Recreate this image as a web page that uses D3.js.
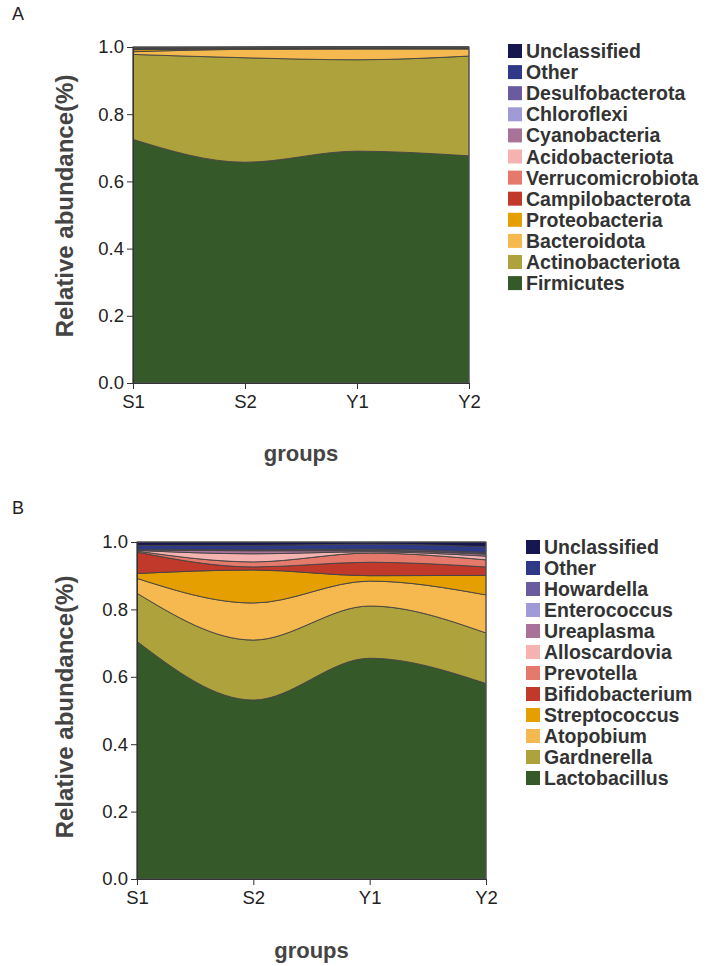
<!DOCTYPE html>
<html><head><meta charset="utf-8">
<script src="https://cdn.jsdelivr.net/npm/d3@7"></script>
<style>body{margin:0;background:#fff;} svg{display:block;font-family:"Liberation Sans",Arial,sans-serif;}</style>
</head><body>
<svg id="chart" width="708" height="966"></svg>
<script>
const groups = ["S1", "S2", "Y1", "Y2"];
const yTicks = [0, 0.2, 0.4, 0.6, 0.8, 1.0];
const colors = ["#36592a", "#aea23c", "#f5b94f", "#e69f00", "#c0392b", "#e57a6c", "#f4b3b0", "#a97298", "#a09bd6", "#6a5a9e", "#2e3a87", "#17174f"];

// Panel A (phylum), bottom to top
const phylaA = ["Firmicutes", "Actinobacteriota", "Bacteroidota", "Proteobacteria", "Campilobacterota", "Verrucomicrobiota", "Acidobacteriota", "Cyanobacteria", "Chloroflexi", "Desulfobacterota", "Other", "Unclassified"];
const firmicutes = [0.725, 0.657, 0.690, 0.676];
const actinobacteriota = [0.253, 0.311, 0.272, 0.297];
const bacteroidota = [0.008, 0.025, 0.032, 0.021];
const proteobacteria = [0.006, 0.002, 0.002, 0.002];
const campilobacterota = [0.001, 0.001, 0.001, 0.001];
const verrucomicrobiota = [0.001, 0.001, 0.001, 0.0005];
const acidobacteriota = [0.0005, 0.0005, 0.0005, 0.0005];
const cyanobacteria = [0.0005, 0.0005, 0.0005, 0.0005];
const chloroflexi = [0.0005, 0.0005, 0.0003, 0.0003];
const desulfobacterota = [0.0005, 0.0003, 0.0002, 0.0002];
const otherA = [0.002, 0.0007, 0.0005, 0.0005];
const unclassifiedA = [0.002, 0.0005, 0.0005, 0.0005];
const seriesA = [firmicutes, actinobacteriota, bacteroidota, proteobacteria, campilobacterota, verrucomicrobiota, acidobacteriota, cyanobacteria, chloroflexi, desulfobacterota, otherA, unclassifiedA];

// Panel B (genus), bottom to top
const generaB = ["Lactobacillus", "Gardnerella", "Atopobium", "Streptococcus", "Bifidobacterium", "Prevotella", "Alloscardovia", "Ureaplasma", "Enterococcus", "Howardella", "Other", "Unclassified"];
const lactobacillus = [0.705, 0.531, 0.655, 0.580];
const gardnerella = [0.143, 0.178, 0.155, 0.150];
const atopobium = [0.044, 0.110, 0.074, 0.113];
const streptococcus = [0.0145, 0.098, 0.016, 0.058];
const bifidobacterium = [0.0635, 0.009, 0.040, 0.025];
const prevotella = [0.003, 0.015, 0.027, 0.021];
const alloscardovia = [0.002, 0.024, 0.004, 0.011];
const ureaplasma = [0.002, 0.009, 0.003, 0.006];
const enterococcus = [0.0005, 0.001, 0.001, 0.002];
const howardella = [0.0005, 0.002, 0.004, 0.003];
const otherB = [0.012, 0.013, 0.015, 0.017];
const unclassifiedB = [0.010, 0.010, 0.006, 0.014];
const seriesB = [lactobacillus, gardnerella, atopobium, streptococcus, bifidobacterium, prevotella, alloscardovia, ureaplasma, enterococcus, howardella, otherB, unclassifiedB];

const svg = d3.select("#chart");

function panel(cfg) {
  const x = d3.scalePoint().domain(groups).range([cfg.x0, cfg.x1]);
  const y = d3.scaleLinear().domain([0, 1]).range([cfg.yb, cfg.yt]);
  const rows = groups.map((g, i) => {
    const r = {group: g};
    cfg.names.forEach((n, k) => r[n] = cfg.series[k][i]);
    return r;
  });
  const stacked = d3.stack().keys(cfg.names)(rows);
  const area = d3.area()
    .x(d => x(d.data.group))
    .y0(d => y(d[0])).y1(d => y(d[1]))
    .curve(d3.curveMonotoneX);
  const g = svg.append("g");
  g.append("rect").attr("x", cfg.x0).attr("y", cfg.yt).attr("width", cfg.x1 - cfg.x0).attr("height", cfg.yb - cfg.yt).attr("fill", colors[colors.length - 1]);
  g.selectAll("path.layer").data(stacked).join("path")
    .attr("class", "layer")
    .attr("d", area)
    .attr("fill", (d, i) => colors[i])
    .attr("stroke", "#444").attr("stroke-width", 0.9);
  g.append("rect").attr("x", cfg.x0).attr("y", cfg.yt).attr("width", cfg.x1 - cfg.x0).attr("height", cfg.yb - cfg.yt)
    .attr("fill", "none").attr("stroke", "#555").attr("stroke-width", 1);

  const ya = g.append("g").attr("transform", `translate(${cfg.x0},0)`)
    .call(d3.axisLeft(y).tickValues(yTicks).tickFormat(d3.format(".1f")).tickSize(6).tickSizeOuter(0));
  ya.selectAll("text").attr("font-size", "18.5px").attr("fill", "#222").attr("font-family", "Liberation Sans, Arial, sans-serif");
  ya.selectAll("line,path").attr("stroke", "#333");
  const xa = g.append("g").attr("transform", `translate(0,${cfg.yb})`)
    .call(d3.axisBottom(x).tickSize(6).tickSizeOuter(0));
  xa.selectAll("text").attr("font-size", "18.5px").attr("fill", "#222").attr("dy", "0.85em").attr("font-family", "Liberation Sans, Arial, sans-serif");
  xa.selectAll("line,path").attr("stroke", "#333");

  g.append("text").attr("x", 12).attr("y", cfg.labelY).attr("font-size", "18px").attr("fill", "#222").text(cfg.label);
  g.append("text").attr("transform", `translate(${cfg.yTitleX},${cfg.yTitleY}) rotate(-90)`)
    .attr("text-anchor", "middle").attr("font-size", "24px").attr("font-weight", "bold").attr("fill", "#444")
    .text("Relative abundance(%)");
  g.append("text").attr("x", (cfg.x0 + cfg.x1) / 2).attr("y", cfg.xTitleY)
    .attr("text-anchor", "middle").attr("font-size", "22px").attr("font-weight", "bold").attr("fill", "#444")
    .text("groups");

  const names = cfg.names.slice().reverse();
  const lg = g.append("g");
  names.forEach((n, i) => {
    const cy = cfg.legY + i * cfg.legStep;
    lg.append("rect").attr("x", cfg.legX).attr("y", cy - 7).attr("width", 14).attr("height", 14)
      .attr("fill", colors[colors.length - 1 - i]);
    lg.append("text").attr("x", cfg.legX + 18).attr("y", cy).attr("dy", "0.36em")
      .attr("font-size", "19.5px").attr("font-weight", "bold").attr("fill", "#333").text(n);
  });
}

panel({names: phylaA, series: seriesA, x0: 133, x1: 469, yt: 47, yb: 383, label: "A", labelY: 20,
  yTitleX: 73, yTitleY: 206, xTitleY: 461, legX: 508, legY: 51, legStep: 21.1});
panel({names: generaB, series: seriesB, x0: 137, x1: 486, yt: 542, yb: 879, label: "B", labelY: 514,
  yTitleX: 73, yTitleY: 707, xTitleY: 958, legX: 526, legY: 547, legStep: 21});
</script>
</body></html>
